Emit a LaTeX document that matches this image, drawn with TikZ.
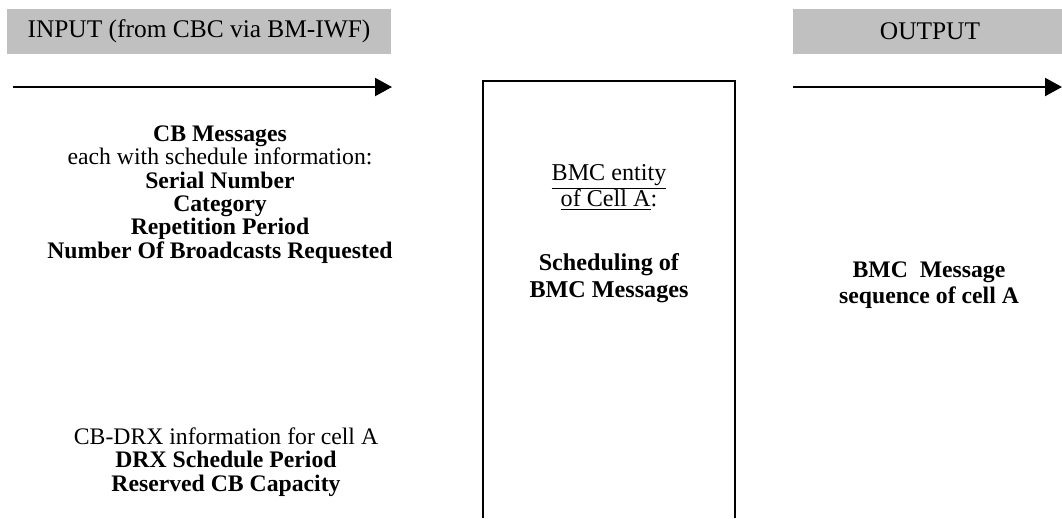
\documentclass[tikz,border=0pt]{standalone}
\usepackage{fontspec}
\setmainfont{Liberation Serif}
\usetikzlibrary{arrows.meta}
\definecolor{barGray}{HTML}{C0C0C0}
\tikzset{
	bar/.style={fill=barGray, draw=none},
	barText/.style={font=\fontsize{12}{13.8}\selectfont},
	flow/.style={line width=0.9pt, -{Triangle[length=8pt,width=8.5pt]}},
	block/.style={align=center, anchor=base, inner sep=0pt, font=\fontsize{11.2}{11}\selectfont}
}

\begin{document}
\begin{tikzpicture}[x=0.4724pt, y=-0.4724pt]
			%%%%% START %%%%%
			\useasboundingbox (0, 0) rectangle (1062, 518);
			
			\draw[bar] (7, 9) rectangle (391, 54);
			\node[barText] (inTitle) at (199, 31.5) {INPUT (from CBC via BM-IWF)};
			
			\draw[bar] (793, 9) rectangle (1062, 54);
			\node[barText] (outTitle) at (930, 31.5) {OUTPUT};
			
			\coordinate (inStart) at (13, 87);
			\coordinate (inEnd) at (392, 87);
			\draw[flow] (inStart) -- (inEnd);
			
			\coordinate (outStart) at (793, 87);
			\coordinate (outEnd) at (1062, 87);
			\draw[flow] (outStart) -- (outEnd);
			
			\draw[line width=1pt] (483, 518) -- (483, 81) -- (735, 81) -- (735, 518);
			
			% base = last line
			\node[block] (cbMsg) at (220, 258) {\textbf{CB Messages}\\
				each with schedule information:\\
				\textbf{Serial Number}\\
				\textbf{Category}\\
				\textbf{Repetition Period}\\
				\textbf{Number Of Broadcasts Requested}};
			
			\node[block] (drxInfo) at (226, 491) {CB-DRX information for cell A\\
				\textbf{DRX Schedule Period}\\
				\textbf{Reserved CB Capacity}};
			
			\node[block, font=\fontsize{11.4}{12.5}\selectfont] (bmcEntity) at (609, 297) {\underline{BMC entity}\\
				\underline{of Cell A}:\\[17.7pt]
				\textbf{Scheduling of}\\
				\textbf{BMC Messages}};
			
			\node[block, font=\fontsize{11.2}{12}\selectfont] (bmcSeq) at (929, 303) {\textbf{BMC\ \ Message}\\
				\textbf{sequence of cell A}};
			
			%%%%% END %%%%%
\end{tikzpicture}
\end{document}
